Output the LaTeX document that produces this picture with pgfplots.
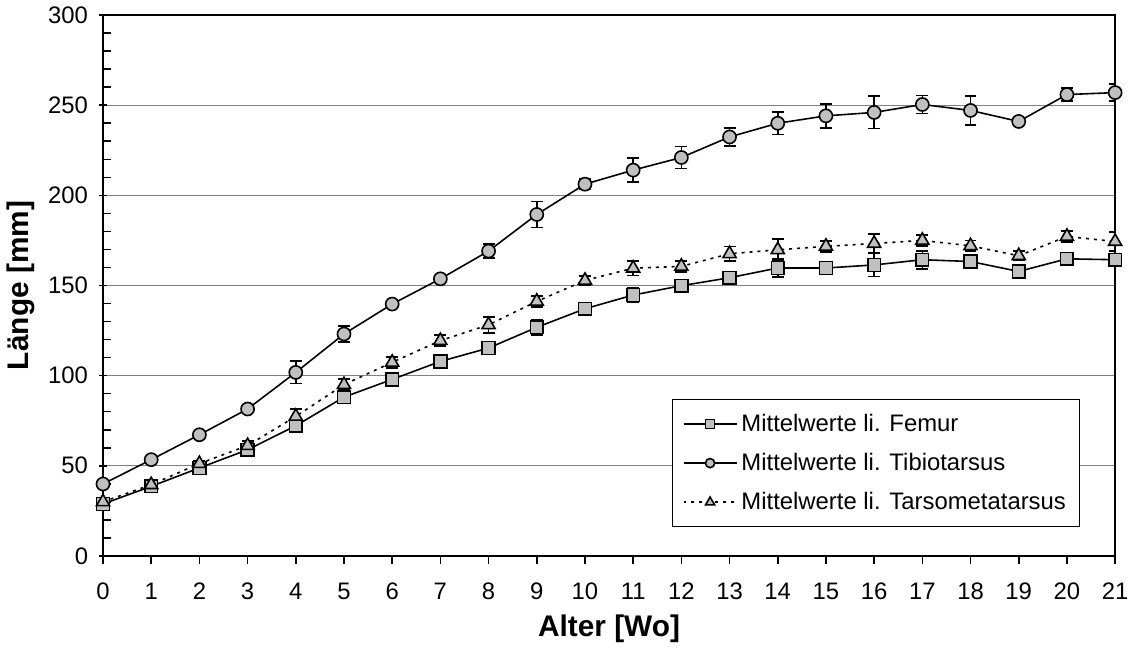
\documentclass[border=0pt]{standalone}
\usepackage{fontspec}
\setmainfont{Liberation Sans}
\usepackage{pgfplots}
\pgfplotsset{compat=1.18}
\definecolor{markgray}{RGB}{192,192,192}
\definecolor{gridgray}{RGB}{128,128,128}

% x = Alter [Wo], y = Mittelwert, e = Fehler
\pgfplotstableread{
x y e
0 28.8 1
1 38.6 1.5
2 48.8 1
3 58.9 1
4 72.2 1.5
5 88.1 1.5
6 97.9 1
7 107.9 1.5
8 115.3 1.5
9 126.8 4.4
10 137.1 1.5
11 144.7 4
12 149.9 1.5
13 154.3 1.5
14 159.7 5
15 159.7 1.5
16 161.4 6.5
17 164.3 5
18 163.3 1.5
19 157.8 1.5
20 164.8 1.5
21 164.3 3
}\femur

\pgfplotstableread{
x y e
0 39.9 1
1 53.4 1
2 67.2 1
3 81.5 1
4 101.8 6.2
5 123.1 4.4
6 139.7 1
7 153.7 1.5
8 169.1 4
9 189.4 7.2
10 206.2 3
11 214.0 6.6
12 221.0 6
13 232.4 5
14 240.0 6.2
15 244.1 6.6
16 246.0 9
17 250.4 5
18 247.1 8
19 241.0 2
20 255.9 3.5
21 257.0 4.7
}\tibio

\pgfplotstableread{
x y e
0 30.0 1
1 39.5 1.5
2 51.2 1.5
3 61.2 2.5
4 77.4 4
5 95.0 3
6 107.4 3
7 119.4 3
8 128.2 4.4
9 141.2 3
10 152.8 2.5
11 159.6 4
12 160.6 3
13 167.6 4
14 169.8 6
15 171.7 3
16 173.3 5.4
17 175.0 3
18 172.0 3
19 166.5 2.5
20 177.2 3
21 174.4 5.4
}\tarso

\begin{document}
\begin{tikzpicture}
\begin{axis}[
  scale only axis,
  width=509pt, height=272pt,
  xmin=0, xmax=21, ymin=0, ymax=300,
  xtick={0,1,...,21}, ytick={0,50,...,300},
  minor y tick num=4,
  xtick pos=bottom, ytick pos=left,
  ymajorgrids, grid style={gridgray, line width=0.6pt},
  axis line style={line width=1pt},
  tick style={black, line width=0.8pt},
  tick align=outside, major tick length=4pt, minor tick length=4pt,
  major y tick style={xshift=2pt},
  minor y tick style={xshift=4pt},
  /pgf/number format/assume math mode=true,
  ticklabel style={font=\fontsize{12}{14}\selectfont},
  xticklabel style={yshift=-6pt},
  xlabel={\textbf{Alter [Wo]}}, ylabel={\textbf{Länge [mm]}},
  label style={font=\fontsize{15}{17}\selectfont},
  xlabel style={yshift=-1pt},
  legend style={at={(0.9657,0.0536)}, anchor=south east, draw=black,
    line width=0.6pt, font=\fontsize{12}{14}\selectfont,
    row sep=5.5pt, inner xsep=5pt, inner ysep=5pt},
  legend cell align=left,
  legend image code/.code={\draw[mark repeat=2, mark phase=2, #1]
    plot coordinates {(0cm,0cm) (0.47cm,0cm) (0.94cm,0cm)};},
  legend image post style={mark options={fill=markgray, solid, scale=0.7}},
  error bars/y dir=both, error bars/y explicit,
  error bars/error bar style={line width=0.8pt, black, solid},
  error bars/error mark options={rotate=90, mark size=3pt, line width=0.8pt, black, solid},
]
\addplot[black, line width=0.8pt, mark=square*, mark size=3.2pt,
  mark options={fill=markgray, solid}]
  table[x=x, y=y, y error=e] {\femur};
\addplot[black, line width=0.8pt, mark=*, mark size=3.3pt,
  mark options={fill=markgray, solid}]
  table[x=x, y=y, y error=e] {\tibio};
\addplot[black, line width=0.8pt, dash pattern=on 1.5pt off 2.5pt, mark=triangle*, mark size=3.8pt,
  mark options={fill=markgray, solid}]
  table[x=x, y=y, y error=e] {\tarso};
\legend{Mittelwerte li. Femur, Mittelwerte li. Tibiotarsus, Mittelwerte li. Tarsometatarsus}
\end{axis}
\end{tikzpicture}
\end{document}
